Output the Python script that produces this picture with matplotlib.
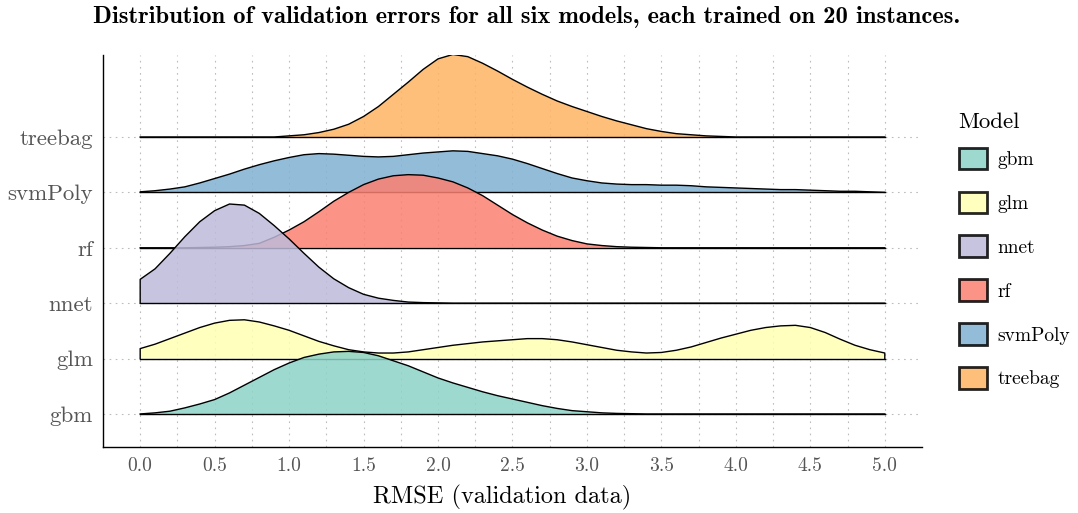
import numpy as np
import matplotlib
matplotlib.use("Agg")
import matplotlib.pyplot as plt
from matplotlib.patches import Patch

plt.rcParams['font.family'] = ['cmr10']
plt.rcParams['mathtext.fontset'] = 'cm'
plt.rcParams['axes.formatter.use_mathtext'] = True

models = ['gbm', 'glm', 'nnet', 'rf', 'svmPoly', 'treebag']
colors = ['#8DD3C7', '#FFFFB3', '#BEBADA', '#FB8072', '#80B1D3', '#FDB462']

# density heights (in row units) read at rmse = 0.0, 0.1, ..., 5.0
rmse = np.round(np.linspace(0, 5, 51), 1)
gbm = [0.00, 0.02, 0.05, 0.11, 0.18, 0.26, 0.38, 0.52, 0.66, 0.80,
       0.92, 1.02, 1.08, 1.12, 1.13, 1.11, 1.05, 0.96, 0.87, 0.76,
       0.65, 0.56, 0.48, 0.40, 0.33, 0.27, 0.21, 0.15, 0.10, 0.06,
       0.04, 0.02, 0.01, 0.005, 0, 0, 0, 0, 0, 0,
       0, 0, 0, 0, 0, 0, 0, 0, 0, 0, 0]
glm = [0.18, 0.26, 0.36, 0.46, 0.56, 0.64, 0.69, 0.70, 0.66, 0.59,
       0.51, 0.41, 0.31, 0.23, 0.16, 0.12, 0.10, 0.10, 0.12, 0.16,
       0.20, 0.24, 0.27, 0.30, 0.32, 0.34, 0.36, 0.36, 0.34, 0.30,
       0.25, 0.20, 0.15, 0.12, 0.10, 0.11, 0.15, 0.21, 0.29, 0.37,
       0.44, 0.51, 0.56, 0.59, 0.60, 0.56, 0.47, 0.35, 0.24, 0.16, 0.10]
nnet = [0.43, 0.62, 0.90, 1.20, 1.47, 1.67, 1.79, 1.77, 1.62, 1.40,
        1.16, 0.90, 0.65, 0.44, 0.28, 0.16, 0.09, 0.05, 0.02, 0.01,
        0.005, 0, 0, 0, 0, 0, 0, 0, 0, 0,
        0, 0, 0, 0, 0, 0, 0, 0, 0, 0,
        0, 0, 0, 0, 0, 0, 0, 0, 0, 0, 0]
rf = [0, 0, 0, 0, 0.005, 0.01, 0.02, 0.04, 0.08, 0.19,
      0.32, 0.47, 0.65, 0.84, 1.00, 1.14, 1.24, 1.30, 1.32, 1.31,
      1.26, 1.19, 1.08, 0.94, 0.77, 0.60, 0.45, 0.32, 0.21, 0.13,
      0.07, 0.04, 0.02, 0.01, 0.005, 0, 0, 0, 0, 0,
      0, 0, 0, 0, 0, 0, 0, 0, 0, 0, 0]
svmPoly = [0.01, 0.03, 0.06, 0.10, 0.17, 0.25, 0.33, 0.42, 0.50, 0.57,
           0.63, 0.68, 0.70, 0.69, 0.67, 0.65, 0.64, 0.65, 0.68, 0.71,
           0.73, 0.75, 0.74, 0.70, 0.66, 0.60, 0.52, 0.43, 0.34, 0.26,
           0.21, 0.17, 0.15, 0.14, 0.14, 0.13, 0.13, 0.12, 0.10, 0.09,
           0.08, 0.07, 0.06, 0.05, 0.05, 0.04, 0.03, 0.02, 0.02, 0.01, 0.0]
treebag = [0, 0, 0, 0, 0, 0, 0, 0, 0, 0,
           0.02, 0.04, 0.08, 0.14, 0.23, 0.37, 0.55, 0.77, 0.99, 1.22,
           1.41, 1.49, 1.45, 1.33, 1.19, 1.04, 0.90, 0.77, 0.65, 0.55,
           0.46, 0.37, 0.29, 0.22, 0.15, 0.10, 0.06, 0.04, 0.02, 0.01,
           0, 0, 0, 0, 0, 0, 0, 0, 0, 0, 0]
densities = [gbm, glm, nnet, rf, svmPoly, treebag]

xticks = [0.0, 0.5, 1.0, 1.5, 2.0, 2.5, 3.0, 3.5, 4.0, 4.5, 5.0]
minor = [0.25, 0.75, 1.25, 1.75, 2.25, 2.75, 3.25, 3.75, 4.25, 4.75]

fig = plt.figure(figsize=(10.78, 5.13), dpi=100)
ax = fig.add_axes([0.0955, 0.1287, 0.7598, 0.7641])

# ridges, top row first so lower rows sit in front
for i in range(len(models) - 1, -1, -1):
    base = i + 1
    d = np.array(densities[i])
    xs = np.concatenate([[rmse[0]], rmse, [rmse[-1]]])
    ys = np.concatenate([[base], base + d, [base]])
    ax.fill(xs, ys, facecolor=colors[i], alpha=0.85, edgecolor='none',
            zorder=10 + (6 - i) * 2)
    ax.plot(xs, ys, color='black', lw=1.0, zorder=11 + (6 - i) * 2,
            solid_joinstyle='round')
    ax.plot([rmse[0], rmse[-1]], [base, base], color='black', lw=1.0,
            zorder=11 + (6 - i) * 2)

ax.set_xlim(-0.25, 5.25)
ax.set_ylim(0.404, 7.48)
ax.set_xticks(xticks)
ax.set_xticklabels([f"{v:.1f}" for v in xticks])
ax.set_xticks(minor, minor=True)
ax.set_yticks(range(1, 7))
ax.set_yticklabels(models)
ax.grid(True, which='both', axis='x', linestyle=(0, (1.5, 4)), color='#bdbdbd', lw=0.8)
ax.grid(True, which='major', axis='y', linestyle=(0, (1.5, 4)), color='#bdbdbd', lw=0.8)
ax.set_axisbelow(True)
ax.tick_params(axis='both', which='both', length=0)
ax.tick_params(axis='y', labelsize=16.5, colors='#555555', pad=7)
ax.tick_params(axis='x', labelsize=14, colors='#555555', pad=7)
for s in ['top', 'right']:
    ax.spines[s].set_visible(False)
for s in ['left', 'bottom']:
    ax.spines[s].set_linewidth(1.0)
ax.set_xlabel('RMSE (validation data)', fontsize=17.5, va='center')
ax.xaxis.set_label_coords(0.487, -(497 - 447) / 392)

fig.text(0.488, 0.966, 'Distribution of validation errors for all six models, each trained on 20 instances.',
         ha='center', va='center', fontsize=17.7, family='cmb10')

fig.text(958 / 1078, 1 - 122 / 513, 'Model', ha='left', va='center', fontsize=16.5)
handles = [Patch(facecolor=c, alpha=0.85, edgecolor='black', lw=2.0) for c in colors]
leg = fig.legend(handles, models, loc='upper left', bbox_to_anchor=(0.8805, 1 - 138 / 513),
                 frameon=False, fontsize=14,
                 handlelength=1.44, handleheight=1.34, labelspacing=1.14,
                 handletextpad=0.55, borderpad=0)
for h in leg.legend_handles:
    h.set_edgecolor('black')

fig.savefig('out.png', dpi=100)
